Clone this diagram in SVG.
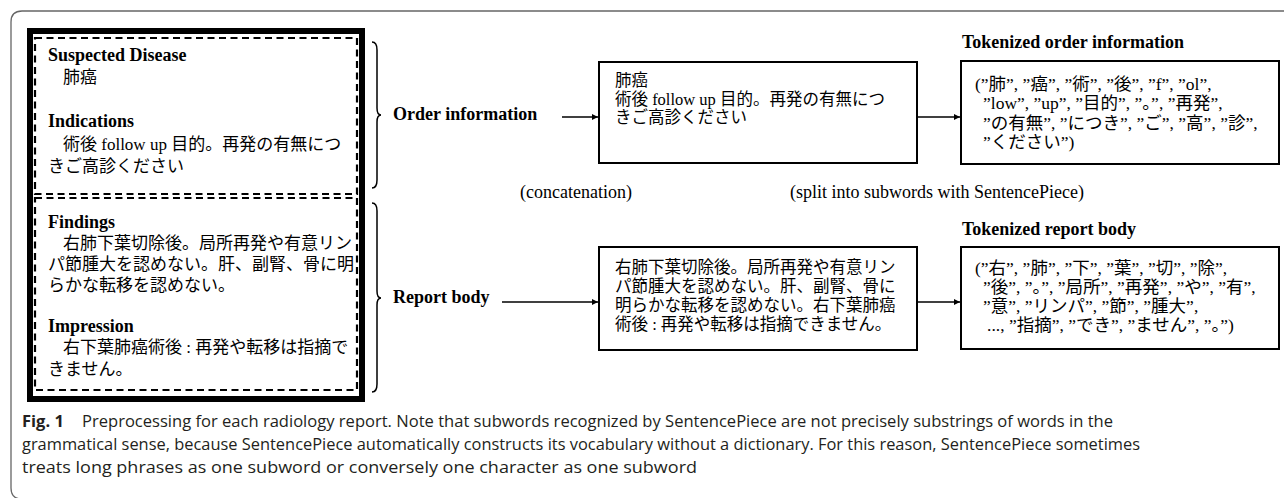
<svg xmlns="http://www.w3.org/2000/svg" width="1284" height="498" viewBox="0 0 1284 498">
<style>
.frame{fill:none;stroke:#666;stroke-width:1.3}
.thick{fill:none;stroke:#000;stroke-width:6}
.dash{fill:none;stroke:#000;stroke-width:2.2;stroke-dasharray:7 4.5}
.box{fill:#fff;stroke:#000;stroke-width:2}
.brace{fill:none;stroke:#000;stroke-width:1.5}
.conn{fill:none;stroke:#000;stroke-width:1.5}
.h{font-family:"Liberation Serif","Noto Sans CJK JP",serif;font-weight:bold;font-size:18px;fill:#000}
.t{font-family:"Liberation Serif","Noto Sans CJK JP",serif;font-size:17px;fill:#000}
.tb{font-family:"Liberation Serif","Noto Sans CJK JP",serif;font-size:16.5px;fill:#000}
.tk{font-family:"Liberation Serif","Noto Sans CJK JP",serif;font-size:17.5px;fill:#000}
.lbl{font-family:"Liberation Serif",serif;font-size:18px;fill:#000}
.cap{font-family:"Open Sans","Noto Sans",sans-serif;font-size:16.5px;fill:#231f20}
.capb{font-family:"Open Sans","Noto Sans",sans-serif;font-size:16.5px;font-weight:bold;fill:#231f20}
</style>
<defs>
<marker id="ah" viewBox="0 0 10 10" refX="10" refY="5" markerWidth="9" markerHeight="6" markerUnits="userSpaceOnUse" orient="auto">
<path d="M0,0 L10,5 L0,10 Z" fill="#000"/>
</marker>
</defs>
<path class="frame" d="M1284,11 L22,11 Q11,11 11,22 L11,488 Q11,499 22,499"/>

<g id="report">
<rect class="thick" x="30" y="31" width="332" height="368"/>
<rect class="dash" x="35" y="38" width="322" height="156"/>
<rect class="dash" x="35" y="198" width="322" height="192"/>
<text class="h" x="48" y="61">Suspected Disease</text>
<text class="t" x="63" y="83">肺癌</text>
<text class="h" x="48" y="127">Indications</text>
<text class="t" x="63" y="150">術後 follow up 目的。再発の有無につ</text>
<text class="t" x="48" y="172">きご高診ください</text>
<text class="h" x="48" y="228">Findings</text>
<text class="t" x="63" y="249">右肺下葉切除後。局所再発や有意リン</text>
<text class="t" x="48" y="270">パ節腫大を認めない。肝、副腎、骨に明</text>
<text class="t" x="48" y="291">らかな転移を認めない。</text>
<text class="h" x="48" y="332">Impression</text>
<text class="t" x="63" y="353">右下葉肺癌術後 : 再発や転移は指摘で</text>
<text class="t" x="48" y="375">きません。</text>
</g>

<g id="brace-order">
<path class="brace" d="M372,42 Q377,42 377,50 L377,108 Q377,115 381,115 Q377,115 377,122 L377,180 Q377,188 372,188"/>
<text class="h" x="393" y="120">Order information</text>
</g>
<g id="brace-report">
<path class="brace" d="M372,203 Q377,203 377,211 L377,291 Q377,298 381,298 Q377,298 377,305 L377,384 Q377,392 372,392"/>
<text class="h" x="393" y="303">Report body</text>
</g>

<g id="order-text">
<rect class="box" x="599" y="62" width="318" height="101"/>
<text class="tb" x="615" y="86">肺癌</text>
<text class="tb" x="615" y="105">術後 follow up 目的。再発の有無につ</text>
<text class="tb" x="615" y="123">きご高診ください</text>
</g>

<g id="report-text">
<rect class="box" x="599" y="247" width="318" height="103"/>
<text class="tb" x="615" y="273">右肺下葉切除後。局所再発や有意リン</text>
<text class="tb" x="615" y="292">パ節腫大を認めない。肝、副腎、骨に</text>
<text class="tb" x="615" y="311">明らかな転移を認めない。右下葉肺癌</text>
<text class="tb" x="615" y="330">術後 : 再発や転移は指摘できません。</text>
</g>

<g id="tok-order">
<text class="h" x="962" y="48">Tokenized order information</text>
<rect class="box" x="961" y="61" width="318" height="103"/>
<text class="tk" x="975" y="90">(”肺”, ”癌”, ”術”, ”後”, ”f”, ”ol”,</text>
<text class="tk" x="983" y="109">”low”, ”up”, ”目的”, ”。”, ”再発”,</text>
<text class="tk" x="983" y="129">”の有無”, ”につき”, ”ご”, ”高”, ”診”,</text>
<text class="tk" x="983" y="148">”ください”)</text>
</g>

<g id="tok-report">
<text class="h" x="962" y="235">Tokenized report body</text>
<rect class="box" x="961" y="247" width="318" height="102"/>
<text class="tk" x="975" y="274">(”右”, ”肺”, ”下”, ”葉”, ”切”, ”除”,</text>
<text class="tk" x="983" y="293">”後”, ”。”, ”局所”, ”再発”, ”や”, ”有”,</text>
<text class="tk" x="983" y="312">”意”, ”リンパ”, ”節”, ”腫大”,</text>
<text class="tk" x="987" y="331">..., ”指摘”, ”でき”, ”ません”, ”。”)</text>
</g>

<g id="labels">
<text class="lbl" x="520" y="198">(concatenation)</text>
<text class="lbl" x="790" y="198">(split into subwords with SentencePiece)</text>
</g>

<g id="connectors">
<line class="conn" x1="562" y1="117" x2="598" y2="117" marker-end="url(#ah)"/>
<line class="conn" x1="917" y1="117" x2="960" y2="117" marker-end="url(#ah)"/>
<line class="conn" x1="502" y1="302" x2="598" y2="302" marker-end="url(#ah)"/>
<line class="conn" x1="917" y1="302" x2="960" y2="302" marker-end="url(#ah)"/>
</g>

<g id="caption">
<text class="capb" x="22" y="427">Fig. 1</text>
<text class="cap" x="82" y="427" textLength="1031" lengthAdjust="spacingAndGlyphs">Preprocessing for each radiology report. Note that subwords recognized by SentencePiece are not precisely substrings of words in the</text>
<text class="cap" x="22" y="450" textLength="1118" lengthAdjust="spacingAndGlyphs">grammatical sense, because SentencePiece automatically constructs its vocabulary without a dictionary. For this reason, SentencePiece sometimes</text>
<text class="cap" x="22" y="473" textLength="675" lengthAdjust="spacingAndGlyphs">treats long phrases as one subword or conversely one character as one subword</text>
</g>
</svg>
